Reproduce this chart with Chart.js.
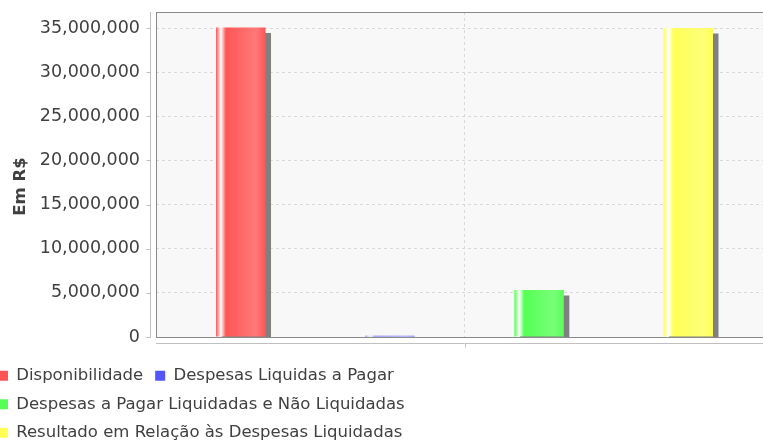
<!DOCTYPE html>
<html>
<head>
<meta charset="utf-8">
<script src="https://cdn.jsdelivr.net/npm/chart.js@4.4.0/dist/chart.umd.min.js"></script>
<style>
  html, body { margin: 0; padding: 0; background: #fff; overflow: hidden; }
  #wrap { position: absolute; left: -14px; top: 0; }
</style>
</head>
<body>
<div id="wrap"><canvas id="myChart" width="791" height="451"></canvas></div>
<script>
// data
const categories = [''];
const seriesNames = [
    'Disponibilidade',
    'Despesas Liquidas a Pagar',
    'Despesas a Pagar Liquidadas e Não Liquidadas',
    'Resultado em Relação às Despesas Liquidadas'
];
const disponibilidade = [35060000];
const despesasLiquidas = [150000];
const despesasAPagar = [5320000];
const resultado = [35000000];
const yTicks = [0, 5000000, 10000000, 15000000, 20000000, 25000000, 30000000, 35000000];
const yTitle = 'Em R$';

// jfreechart default series paints and their brighter() versions
const baseColors = ['#ff5555', '#5555ff', '#55ff55', '#ffff55'];
const brightColors = ['#ff7979', '#7979ff', '#79ff79', '#ffff79'];

const allValues = [disponibilidade, despesasLiquidas, despesasAPagar, resultado];
const yMax = Math.max(...allValues.flat()) * 1.05; // 5% upper margin

const textColor = '#404040';
const fontFamily = "'DejaVu Sans', sans-serif";

const plotDecor = {
    id: 'plotDecor',
    beforeDraw(chart) {
        const {ctx, chartArea: a} = chart;
        ctx.save();
        ctx.fillStyle = '#f8f8f8';
        ctx.fillRect(a.left, a.top, a.right - a.left, a.bottom - a.top);
        ctx.restore();
    },
    beforeDatasetsDraw(chart) {
        const ctx = chart.ctx;
        // gradient bar painter look
        chart.data.datasets.forEach((ds, i) => {
            chart.getDatasetMeta(i).data.forEach(bar => {
                const left = bar.x - bar.width / 2;
                const right = bar.x + bar.width / 2;
                const g = ctx.createLinearGradient(left, 0, right, 0);
                g.addColorStop(0, baseColors[i]);
                g.addColorStop(0.1, '#ffffff');
                g.addColorStop(0.2, baseColors[i]);
                g.addColorStop(0.8, brightColors[i]);
                g.addColorStop(1, baseColors[i]);
                bar.options.backgroundColor = g;
            });
        });
        ctx.save();
        ctx.shadowColor = '#808080';
        ctx.shadowOffsetX = 5.5;
        ctx.shadowOffsetY = 5.5;
        ctx.shadowBlur = 0;
    },
    afterDatasetsDraw(chart) {
        chart.ctx.restore();
    },
    afterDraw(chart) {
        const {ctx, chartArea: a, scales} = chart;
        ctx.save();
        // plot outline
        ctx.strokeStyle = '#8a8a8a';
        ctx.lineWidth = 1;
        ctx.strokeRect(a.left + 0.5, a.top + 0.5, a.right - a.left, a.bottom - a.top);

        // axis lines sit a little away from the plot
        ctx.strokeStyle = '#c0c0c0';
        const axX = a.left - 5.5;
        ctx.beginPath();
        ctx.moveTo(axX, a.top);
        ctx.lineTo(axX, a.bottom + 1);
        scales.y.ticks.forEach(t => {
            const py = Math.round(scales.y.getPixelForValue(t.value)) + 0.5;
            ctx.moveTo(axX - 4, py);
            ctx.lineTo(axX, py);
        });
        const axY = a.bottom + 6.5;
        ctx.moveTo(a.left, axY);
        ctx.lineTo(a.right, axY);
        categories.forEach((c, i) => {
            const px = Math.round(scales.x.getPixelForValue(i)) + 0.5;
            ctx.moveTo(px, axY);
            ctx.lineTo(px, axY + 4);
        });
        ctx.stroke();

        // range axis label, rotated
        ctx.translate(35, (a.top + a.bottom) / 2 + 12);
        ctx.rotate(-Math.PI / 2);
        ctx.fillStyle = textColor;
        ctx.font = "bold 16.5px " + fontFamily;
        ctx.textAlign = 'center';
        ctx.textBaseline = 'middle';
        ctx.fillText(yTitle, 0, 0);
        ctx.restore();
    }
};

const ctx = document.getElementById('myChart').getContext('2d');
Chart.defaults.font.family = fontFamily;

window.myChart = new Chart(ctx, {
    type: 'bar',
    data: {
        labels: categories,
        datasets: seriesNames.map((name, i) => ({
            label: name,
            data: allValues[i],
            backgroundColor: baseColors[i],
            borderWidth: 0,
            categoryPercentage: 0.967,
            barPercentage: 0.332
        }))
    },
    options: {
        responsive: false,
        animation: false,
        layout: {
            padding: { left: 0, right: 4, top: 12, bottom: 0 }
        },
        plugins: {
            legend: {
                position: 'bottom',
                align: 'start',
                labels: {
                    boxWidth: 10,
                    boxHeight: 10,
                    padding: 12,
                    color: textColor,
                    font: { size: 16.5 }
                }
            },
            tooltip: { enabled: false }
        },
        scales: {
            x: {
                grid: {
                    offset: false,
                    drawTicks: false,
                    color: '#d9d9d9',
                    lineWidth: 1
                },
                border: { display: false, dash: [3, 3] },
                ticks: { display: false },
                afterFit: scale => { scale.height = 18.5; }
            },
            y: {
                bounds: 'data',
                grid: {
                    drawTicks: true,
                    tickLength: 16,
                    tickColor: 'rgba(0,0,0,0)',
                    color: '#d9d9d9',
                    lineWidth: 1
                },
                border: { display: false, dash: [3, 3] },
                ticks: {
                    padding: 0,
                    color: textColor,
                    font: { size: 17.5 },
                    callback: v => v.toLocaleString('en-US')
                },
                afterDataLimits: scale => {
                    scale.min = 0;
                    scale.max = yMax;
                },
                afterBuildTicks: scale => {
                    scale.ticks = yTicks.map(v => ({ value: v }));
                },
                afterFit: scale => { scale.width = 170; }
            }
        }
    },
    plugins: [plotDecor]
});
</script>
</body>
</html>
